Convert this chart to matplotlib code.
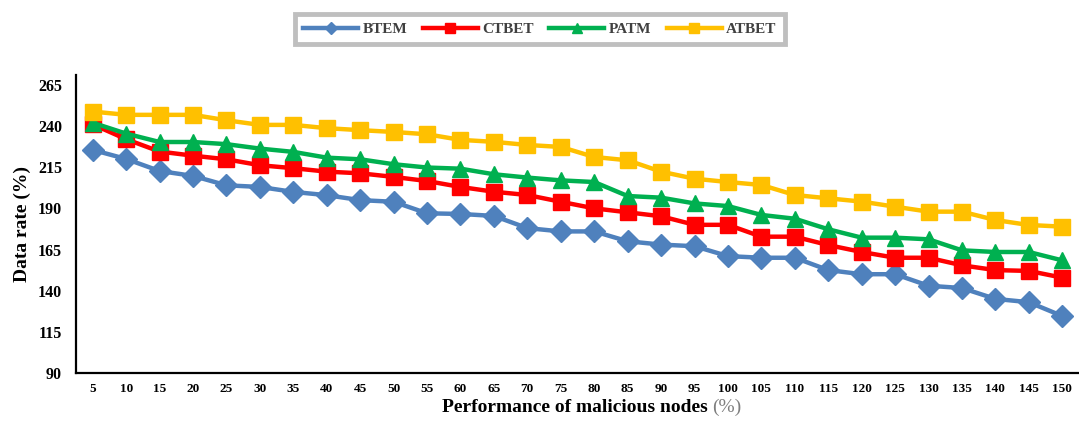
import matplotlib.pyplot as plt
import numpy as np

nodes = [5, 10, 15, 20, 25, 30, 35, 40, 45, 50, 55, 60, 65, 70, 75,
         80, 85, 90, 95, 100, 105, 110, 115, 120, 125, 130, 135, 140, 145, 150]

btem = [225.5, 220, 212.7, 209.7, 204, 203, 200, 198, 195, 194, 187, 186.6, 185.4, 178, 176,
        176, 170, 168, 167, 161, 160, 160, 152.5, 150, 150, 143, 141.6, 135, 133, 124.6]
ctbet = [241, 232, 224.5, 222, 219.8, 216.2, 214.4, 212.3, 211.3, 209.1, 206.6, 203, 200.1, 198.1, 194,
         190, 187.6, 185.2, 180, 180, 172.8, 172.8, 167.7, 163.5, 160, 160, 155.4, 152.5, 152, 147.9]
patm = [242, 235.4, 230.3, 230.3, 229, 226.3, 224.3, 220.8, 219.8, 216.8, 214.8, 214.1, 210.7, 208.7, 207,
        206, 197.5, 196.5, 193, 191.4, 186, 183.7, 177.3, 172.2, 172.2, 171.2, 164.5, 163.5, 163.5, 158.4]
atbet = [248.8, 246.8, 246.8, 246.8, 243.5, 240.7, 240.7, 238.7, 237.5, 236.4, 235, 231.6, 230.4, 228.5, 227.3,
         221.2, 219.2, 212.3, 208, 206, 204.2, 198.1, 196.1, 194.1, 191, 188, 188, 182.9, 179.9, 178.9]

series = [('BTEM', btem, '#4F81BD', 'D', 11),
          ('CTBET', ctbet, '#FF0000', 's', 12),
          ('PATM', patm, '#00B050', '^', 12),
          ('ATBET', atbet, '#FFC000', 's', 12)]

serif = 'Liberation Serif'

fig = plt.figure(figsize=(10.79, 4.25), dpi=100)
ax = fig.add_axes([76/1079, 52/425, 1003/1079, 298/425])

x = np.arange(len(nodes))
for name, vals, col, mk, ms in series:
    ax.plot(x, vals, color=col, lw=3.2, marker=mk, markersize=ms, label=name)

ax.set_xlim(-0.5, len(nodes) - 0.5)
ax.set_ylim(90, 271)
ax.set_yticks(np.arange(90, 266, 25))
ax.set_xticks(x)
ax.set_xticklabels([str(n) for n in nodes])
ax.tick_params(axis='both', length=0)
ax.tick_params(axis='x', pad=7)
ax.tick_params(axis='y', pad=10)
for lab in ax.get_xticklabels():
    lab.set_fontfamily(serif)
    lab.set_fontweight('heavy')
    lab.set_fontsize(9.5)
for lab in ax.get_yticklabels():
    lab.set_fontfamily(serif)
    lab.set_fontweight('bold')
    lab.set_fontsize(11.5)

for s in ['top', 'right']:
    ax.spines[s].set_visible(False)
for s in ['left', 'bottom']:
    ax.spines[s].set_linewidth(1.6)

ax.set_ylabel('Data rate (%)', fontfamily=serif, fontweight='bold', fontsize=14, labelpad=5)

t = fig.text(0.535, 0.02, 'Performance of malicious nodes ', fontfamily=serif, fontweight='bold',
             fontsize=14, ha='center', va='bottom')
fig.canvas.draw()
ax.annotate('(%)', xy=(1, 0), xycoords=t, va='bottom', ha='left',
            fontfamily=serif, fontsize=14, color='#7f7f7f')

leg = fig.legend(loc='center', bbox_to_anchor=(540/1079, 1 - 29/425), ncol=4,
                 prop={'family': serif, 'weight': 'bold', 'size': 11},
                 handlelength=3.6, markerscale=0.55, columnspacing=1.0, handletextpad=0.3,
                 frameon=True, fancybox=False, borderpad=0.55)
leg.get_frame().set_edgecolor('#b0b0b0')
leg.get_frame().set_linewidth(3.5)
for txt in leg.get_texts():
    txt.set_color('#404040')

fig.savefig('out.png', dpi=100)
